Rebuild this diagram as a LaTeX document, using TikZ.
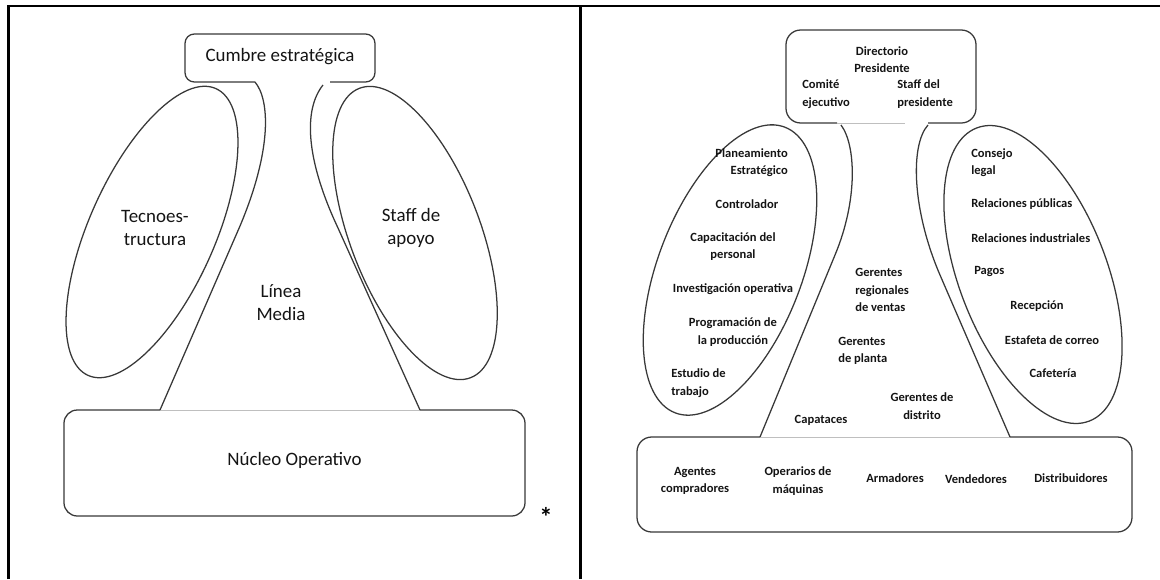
\documentclass[tikz,border=0pt]{standalone}
\usepackage{fontspec}
\setmainfont{Carlito}
\begin{document}
\begin{tikzpicture}[x=0.75pt,y=-0.75pt,
  panelframe/.style={line width=1.6pt,black},
  outline/.style={draw=black!78,line width=0.95pt},
  faint/.style={draw=black!25,line width=0.6pt},
  biglbl/.style={inner sep=0pt,align=center,text=black!92,
    font=\fontsize{14.2pt}{17.3pt}\selectfont},
  smalllbl/.style={inner sep=0pt,align=center,text=black!92,
    font=\bfseries\fontsize{9.4pt}{13pt}\selectfont}]
\useasboundingbox (0,0) rectangle (1160,579);

% table frame: top rule, left rule and the divider between the two panels
\draw[panelframe] (8.5,579) -- (8.5,6) -- (1160,6);
\draw[panelframe] (580.5,6) -- (580.5,579);

% ---------------- left panel: the five parts ----------------
\coordinate (cbL) at (255,82);
\coordinate (cbR) at (330,82);
\coordinate (cbS) at (323,85);
\coordinate (nL) at (160,410);
\coordinate (nR) at (420,410);

\draw[outline,rounded corners=7pt]
  (cbL) -- (185,82) -- (185,34) -- (375,34) -- (375,82) -- (cbR);
\node[biglbl] (cumbre) at (280,57) {Cumbre estratégica};

\draw[outline,rounded corners=10pt]
  (nL) -- (64,410) -- (64,516) -- (525,516) -- (525,410) -- (nR);
\draw[faint] (nL) -- (nR);
\node[biglbl] (nucleo) at (294.5,460) {Núcleo Operativo};

% middle line between apex and operating core
\draw[outline] (cbL) .. controls (270,100) and (272,150) .. (240,226) -- (nL);
\draw[outline] (cbS) .. controls (303,110) and (306,160) .. (338,228) -- (nR);

% technostructure and support staff
\draw[outline,rotate around={-24:(152,232)}] (152,232) ellipse [x radius=63,y radius=157];
\draw[outline,rotate around={21:(415,233)}] (415,233) ellipse [x radius=65,y radius=155];

\node[biglbl] (tecno) at (155,228) {Tecnoes-\\tructura};
\node[biglbl] (staff) at (411,228) {Staff de\\apoyo};
\node[biglbl] (linea) at (281,303) {Línea\\Media};
\node[inner sep=0pt,font=\bfseries\fontsize{20pt}{20pt}\selectfont] (star) at (546,517) {*};

% ---------------- right panel: example organisation ----------------
\coordinate (dL) at (837,123);
\coordinate (dR) at (928,123);
\coordinate (dLs) at (841,125);
\coordinate (dRs) at (928,125);
\coordinate (bL) at (760,437);
\coordinate (bR) at (1010,437);

\draw[outline,rounded corners=11pt]
  (dL) -- (786,123) -- (786,30) -- (976,30) -- (976,123) -- (dR);
\draw[faint] (dL) -- (905,123);

\draw[outline,rounded corners=11pt]
  (bL) -- (637,437) -- (637,532) -- (1132,532) -- (1132,437) -- (bR);
\draw[faint] (bL) -- (bR);

\draw[outline] (dLs) .. controls (856,145) and (858,200) .. (835,255) -- (bL);
\draw[outline] (dRs) .. controls (910,145) and (912,210) .. (940,275) -- (bR);

\draw[outline,rotate around={-21:(730,270)}] (730,270) ellipse [x radius=72,y radius=153];
\draw[outline,rotate around={21:(1033,274.5)}] (1033,274.5) ellipse [x radius=74,y radius=157];

% strategic apex
\node[smalllbl] (dir) at (882,59.5) {Directorio\\Presidente};
\node[smalllbl,align=left,anchor=west] (comite) at (802,94) {Comité\\ejecutivo};
\node[smalllbl,align=left,anchor=west] (staffpres) at (897,94) {Staff del\\presidente};

% technostructure
\node[smalllbl,align=right,anchor=east] (plan) at (788,162.5) {Planeamiento\\Estratégico};
\node[smalllbl] (contr) at (747,204) {Controlador};
\node[smalllbl] (capac) at (733,246.5) {Capacitación del\\personal};
\node[smalllbl] (invest) at (733,289) {Investigación operativa};
\node[smalllbl] (prog) at (733,332) {Programación de\\la producción};
\node[smalllbl,align=left,anchor=west] (estudio) at (671,383) {Estudio de\\trabajo};

% middle line
\node[smalllbl,align=left,anchor=west] (gregion) at (855,290) {Gerentes\\regionales\\de ventas};
\node[smalllbl,align=left,anchor=west] (gplanta) at (838,351) {Gerentes\\de planta};
\node[smalllbl] (gdistr) at (922,406) {Gerentes de\\distrito};
\node[smalllbl] (capat) at (821,420) {Capataces};

% support staff
\node[smalllbl,align=left,anchor=west] (consejo) at (971,162.5) {Consejo\\legal};
\node[smalllbl,anchor=west] (rpub) at (971,204) {Relaciones públicas};
\node[smalllbl,anchor=west] (rind) at (971,238) {Relaciones industriales};
\node[smalllbl,anchor=west] (pagos) at (974,271) {Pagos};
\node[smalllbl] (recep) at (1037,306) {Recepción};
\node[smalllbl] (estaf) at (1052,340) {Estafeta de correo};
\node[smalllbl] (cafe) at (1053,373) {Cafetería};

% operating core
\node[smalllbl] (agentes) at (695,481) {Agentes\\compradores};
\node[smalllbl] (operar) at (798,481) {Operarios de\\máquinas};
\node[smalllbl] (armad) at (895,478) {Armadores};
\node[smalllbl] (vended) at (976,479) {Vendedores};
\node[smalllbl] (distrib) at (1071,478) {Distribuidores};
\end{tikzpicture}
\end{document}
